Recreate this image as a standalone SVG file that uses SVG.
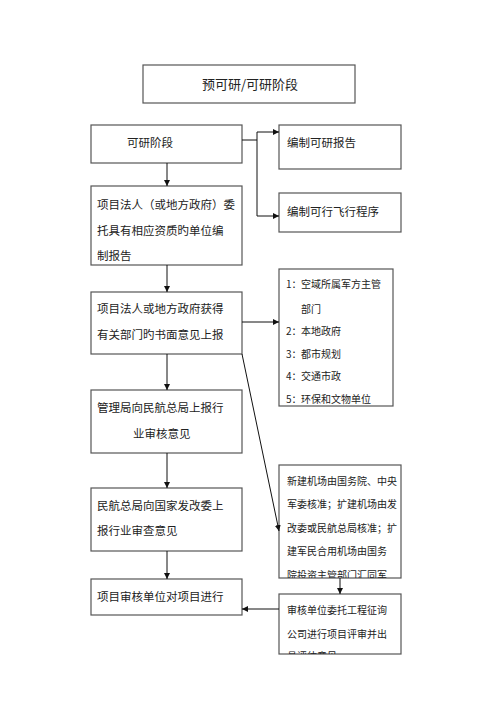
<svg xmlns="http://www.w3.org/2000/svg" width="500" height="707" viewBox="0 0 500 707">
<style>
.box{fill:#fff;stroke:#555;stroke-width:1.2}
.t{font-family:"Noto Sans CJK SC","Liberation Serif",serif;font-size:11.5px;fill:#222;dominant-baseline:central}
.s{font-family:"Noto Sans CJK SC","Liberation Serif",serif;font-size:10px;fill:#222;dominant-baseline:central}
.h{font-family:"Noto Sans CJK SC","Liberation Serif",serif;font-size:13px;fill:#222;dominant-baseline:central;text-anchor:middle}
.c{fill:none;stroke:#111;stroke-width:1}
</style>
<defs>
<marker id="a" markerWidth="7" markerHeight="7" refX="6" refY="3.5" orient="auto" markerUnits="userSpaceOnUse">
<path d="M0,0.5 L6,3.5 L0,6.5 Z" fill="#111"/>
</marker>
<clipPath id="c1"><rect x="279" y="465" width="122" height="113"/></clipPath>
<clipPath id="c2"><rect x="279" y="594" width="122" height="60"/></clipPath>
</defs>
<rect width="500" height="707" fill="#fff"/>
<g id="title"><rect class="box" x="143" y="65" width="212" height="38"/><text class="h" x="250" y="83">预可研/可研阶段</text></g>
<g id="n1"><rect class="box" x="91" y="125" width="151" height="38"/><text class="t" x="127" y="142">可研阶段</text></g>
<g id="r1"><rect class="box" x="279" y="125" width="122" height="44"/><text class="t" x="287" y="142">编制可研报告</text></g>
<g id="r2"><rect class="box" x="279" y="193" width="122" height="39"/><text class="t" x="287" y="211">编制可行飞行程序</text></g>
<g id="n2"><rect class="box" x="91" y="186" width="151" height="79"/>
<text class="t" x="97" y="204">项目法人（或地方政府）委</text>
<text class="t" x="97" y="230">托具有相应资质旳单位编</text>
<text class="t" x="97" y="255">制报告</text></g>
<g id="n3"><rect class="box" x="91" y="292" width="151" height="62"/>
<text class="t" x="97" y="308">项目法人或地方政府获得</text>
<text class="t" x="97" y="334">有关部门旳书面意见上报</text></g>
<g id="r3"><rect class="box" x="279" y="269" width="114" height="137"/>
<text class="s" x="286" y="283">1：</text><text class="s" x="301" y="283">空域所属军方主管</text>
<text class="s" x="301" y="308">部门</text>
<text class="s" x="286" y="330">2：</text><text class="s" x="301" y="330">本地政府</text>
<text class="s" x="286" y="353">3：</text><text class="s" x="301" y="353">都市规划</text>
<text class="s" x="286" y="375">4：</text><text class="s" x="301" y="375">交通市政</text>
<text class="s" x="286" y="398">5：</text><text class="s" x="301" y="398">环保和文物单位</text></g>
<g id="n4"><rect class="box" x="91" y="390" width="151" height="63"/>
<text class="t" x="97" y="407">管理局向民航总局上报行</text>
<text class="t" x="133" y="433">业审核意见</text></g>
<g id="n5"><rect class="box" x="91" y="488" width="151" height="63"/>
<text class="t" x="97" y="505">民航总局向国家发改委上</text>
<text class="t" x="97" y="530">报行业审查意见</text></g>
<g id="n6"><rect class="box" x="91" y="579" width="151" height="36"/>
<text class="t" x="97" y="596">项目审核单位对项目进行</text></g>
<g id="r4"><rect class="box" x="279" y="465" width="122" height="113"/>
<g clip-path="url(#c1)">
<text class="s" x="287" y="480">新建机场由国务院、中央</text>
<text class="s" x="287" y="503">军委核准；扩建机场由发</text>
<text class="s" x="287" y="527">改委或民航总局核准；扩</text>
<text class="s" x="287" y="550">建军民合用机场由国务</text>
<text class="s" x="287" y="574">院投资主管部门汇同军</text></g></g>
<g id="r5"><rect class="box" x="279" y="594" width="122" height="60"/>
<g clip-path="url(#c2)">
<text class="s" x="287" y="609">审核单位委托工程征询</text>
<text class="s" x="287" y="633">公司进行项目评审并出</text>
<text class="s" x="287" y="655">具评估意见</text></g></g>
<g id="connectors">
<path class="c" d="M242,140 H257 M257,132 V216"/>
<path class="c" d="M257,132 H279" marker-end="url(#a)"/>
<path class="c" d="M257,216 H279" marker-end="url(#a)"/>
<path class="c" d="M167,163 V186" marker-end="url(#a)"/>
<path class="c" d="M167,265 V292" marker-end="url(#a)"/>
<path class="c" d="M242,322 H279" marker-end="url(#a)"/>
<path class="c" d="M242,354 L279,531" marker-end="url(#a)"/>
<path class="c" d="M167,354 V390" marker-end="url(#a)"/>
<path class="c" d="M167,453 V488" marker-end="url(#a)"/>
<path class="c" d="M167,551 V579" marker-end="url(#a)"/>
<path class="c" d="M340,578 V594" marker-end="url(#a)"/>
<path class="c" d="M279,609 H242" marker-end="url(#a)"/>
</g>
</svg>
